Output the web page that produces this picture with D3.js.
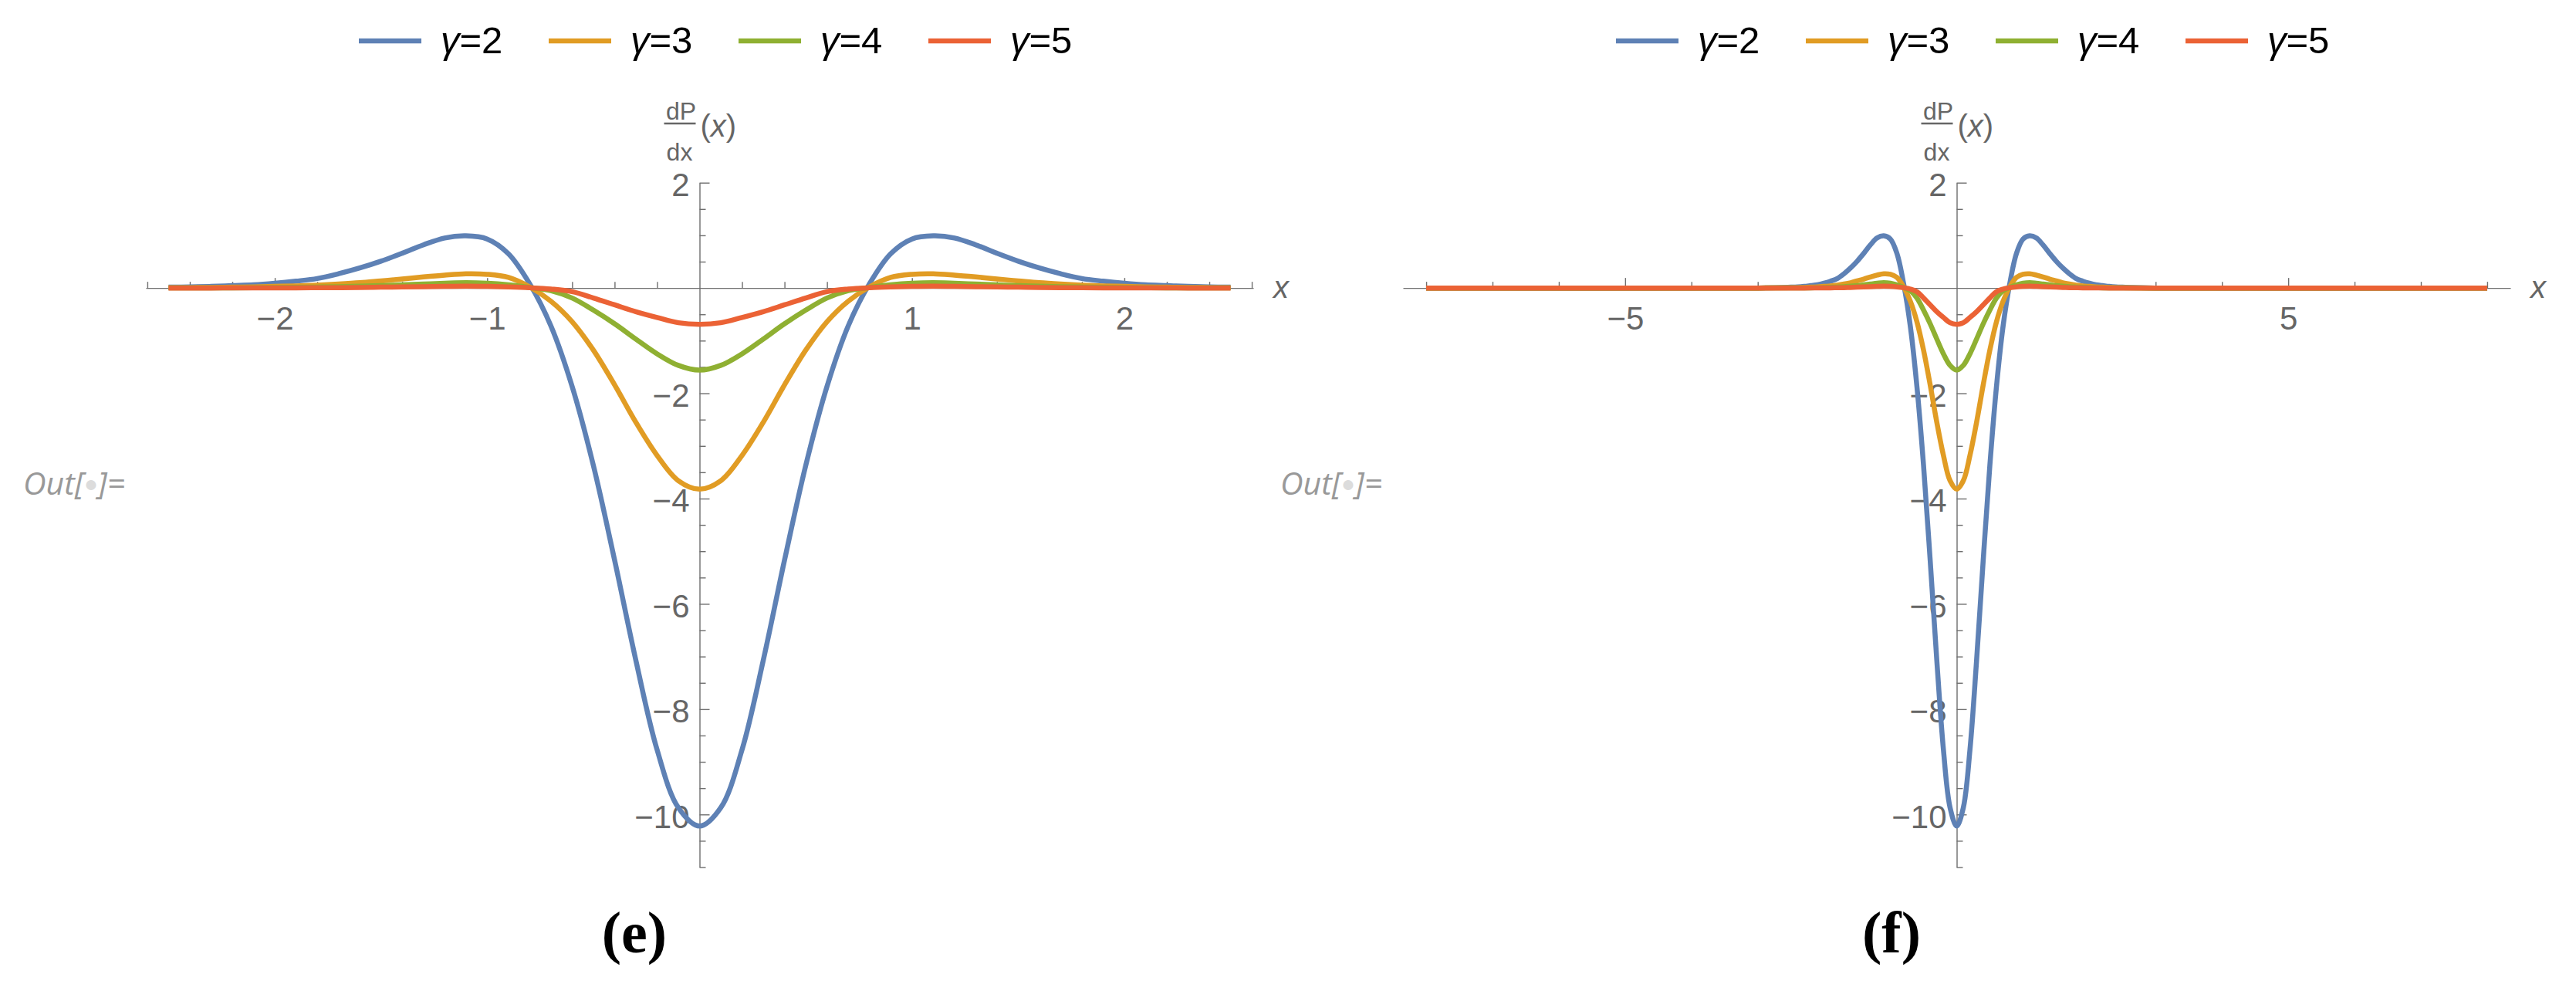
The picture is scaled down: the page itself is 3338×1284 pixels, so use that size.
<!DOCTYPE html>
<html>
<head>
<meta charset="utf-8">
<script src="https://cdn.jsdelivr.net/npm/d3@7"></script>
<style>
  body { margin: 0; background: #fff; }
  svg { display: block; }
</style>
</head>
<body>
<div id="chart"></div>
<script>
// sample points (same curves in both panels)
const xs = [-2.5, -2.4, -2.3, -2.2, -2.1, -2, -1.9, -1.8, -1.7, -1.6, -1.5, -1.4, -1.3, -1.2, -1.1, -1, -0.9, -0.8, -0.7, -0.6, -0.5, -0.4, -0.3, -0.2, -0.1,
  0, 0.1, 0.2, 0.3, 0.4, 0.5, 0.6, 0.7, 0.8, 0.9, 1, 1.1, 1.2, 1.3, 1.4, 1.5, 1.6, 1.7, 1.8, 1.9, 2, 2.1, 2.2, 2.3, 2.4, 2.5];

const gamma2 = [0.015, 0.02, 0.03, 0.045, 0.06, 0.09, 0.13, 0.18, 0.27, 0.38, 0.51, 0.66, 0.82, 0.95, 0.99, 0.93, 0.65, 0.08, -0.72, -1.87, -3.37, -5.17, -7.07, -8.77, -9.87,
  -10.22, -9.87, -8.77, -7.07, -5.17, -3.37, -1.87, -0.72, 0.08, 0.65, 0.93, 0.99, 0.95, 0.82, 0.66, 0.51, 0.38, 0.27, 0.18, 0.13, 0.09, 0.06, 0.045, 0.03, 0.02, 0.015];

const gamma3 = [0.005, 0.007, 0.01, 0.015, 0.02, 0.03, 0.04, 0.055, 0.075, 0.1, 0.135, 0.17, 0.21, 0.245, 0.27, 0.26, 0.2, 0.02, -0.25, -0.64, -1.18, -1.84, -2.55, -3.18, -3.66,
  -3.82, -3.66, -3.18, -2.55, -1.84, -1.18, -0.64, -0.25, 0.02, 0.2, 0.26, 0.27, 0.245, 0.21, 0.17, 0.135, 0.1, 0.075, 0.055, 0.04, 0.03, 0.02, 0.015, 0.01, 0.007, 0.005];

const gamma4 = [0.001, 0.001, 0.002, 0.003, 0.005, 0.008, 0.012, 0.018, 0.025, 0.035, 0.045, 0.06, 0.075, 0.09, 0.1, 0.09, 0.06, 0.01, -0.05, -0.19, -0.42, -0.68, -0.97, -1.25, -1.47,
  -1.56, -1.47, -1.25, -0.97, -0.68, -0.42, -0.19, -0.05, 0.01, 0.06, 0.09, 0.1, 0.09, 0.075, 0.06, 0.045, 0.035, 0.025, 0.018, 0.012, 0.008, 0.005, 0.003, 0.002, 0.001, 0.001];

const gamma5 = [0, 0, 0, 0.001, 0.001, 0.002, 0.003, 0.005, 0.007, 0.01, 0.015, 0.02, 0.025, 0.03, 0.035, 0.03, 0.02, 0.005, -0.02, -0.07, -0.19, -0.32, -0.45, -0.56, -0.66,
  -0.69, -0.66, -0.56, -0.45, -0.32, -0.19, -0.07, -0.02, 0.005, 0.02, 0.03, 0.035, 0.03, 0.025, 0.02, 0.015, 0.01, 0.007, 0.005, 0.003, 0.002, 0.001, 0.001, 0, 0, 0];

// flat tails for the wide panel (f)
const tailX = [-8, -3, 3, 8];
const tailY = [0, 0, 0, 0];

const gammaValues = ["2", "3", "4", "5"];
const seriesColors = ["#5e81b5", "#e19c24", "#8fb032", "#eb6235"];
const panelLabels = ["(e)", "(f)"];

const yMajorTicks = [2, -2, -4, -6, -8, -10];
const xMajorTicksE = [-2, -1, 1, 2];
const xMajorTicksF = [-5, 5];

const W = 3338, H = 1284;
const axisColor = "#6e6e6e";
const sans = "'Liberation Sans', Arial, sans-serif";

const svg = d3.select("#chart").append("svg")
    .attr("width", W)
    .attr("height", H)
    .style("font-family", sans);

const fmt = d => (d < 0 ? "\u2212" + Math.abs(d) : "" + d);

class DerivPanel {
    constructor(svg, offset, xDomain, xMajor, xMinor, curves, label) {
        this.g = svg.append("g").attr("transform", `translate(${offset},0)`);

        this.x = d3.scaleLinear().domain(xDomain).range([189, 1624]);
        this.y = d3.scaleLinear().domain([-11, 2]).range([1123.5, 236.7]);

        const x = this.x, y = this.y, g = this.g;
        const x0 = x(0), y0 = y(0);

        // x axis: minor then major ticks, pointing up
        g.append("g")
            .attr("transform", `translate(0,${y0})`)
            .call(d3.axisBottom(x).tickValues(xMinor).tickSizeInner(-8).tickSizeOuter(0).tickFormat(""))
            .call(a => a.select(".domain").attr("stroke", axisColor).attr("stroke-width", 1.4));
        g.append("g")
            .attr("class", "xmajor")
            .attr("transform", `translate(0,${y0})`)
            .call(d3.axisBottom(x).tickValues(xMajor).tickSizeInner(-13).tickSizeOuter(0).tickPadding(24).tickFormat(fmt))
            .call(a => a.select(".domain").remove());

        // y axis: ticks pointing right
        const yMinor = d3.range(-22, 5).map(i => i * 0.5).filter(v => v % 2 !== 0);
        g.append("g")
            .attr("transform", `translate(${x0},0)`)
            .call(d3.axisLeft(y).tickValues(yMinor).tickSizeInner(-8).tickSizeOuter(0).tickFormat(""))
            .call(a => a.select(".domain").attr("stroke", axisColor).attr("stroke-width", 1.4));
        g.append("g")
            .attr("class", "ymajor")
            .attr("transform", `translate(${x0},0)`)
            .call(d3.axisLeft(y).tickValues(yMajorTicks).tickSizeInner(-13).tickSizeOuter(0).tickPadding(13).tickFormat(fmt))
            .call(a => a.select(".domain").remove());

        g.selectAll(".tick line").attr("stroke", axisColor).attr("stroke-width", 1.4);
        g.selectAll(".tick text")
            .attr("fill", "#666")
            .attr("font-size", 42)
            .style("font-family", sans);
        g.selectAll(".ymajor .tick text").attr("dy", "0.4em");

        // axis labels
        g.append("text")
            .attr("x", 1650).attr("y", 386)
            .attr("fill", "#666").attr("font-size", 40).attr("font-style", "italic")
            .text("x");

        const lab = g.append("g").attr("fill", "#666");
        lab.append("text").attr("x", x0 - 24).attr("y", 155)
            .attr("text-anchor", "middle").attr("font-size", 32).text("dP");
        lab.append("line")
            .attr("x1", x0 - 46).attr("x2", x0 - 5)
            .attr("y1", 160).attr("y2", 160)
            .attr("stroke", "#666").attr("stroke-width", 2.5);
        lab.append("text").attr("x", x0 - 26).attr("y", 208)
            .attr("text-anchor", "middle").attr("font-size", 32).text("dx");
        const px = lab.append("text").attr("x", x0 + 1).attr("y", 177).attr("font-size", 40);
        px.append("tspan").text("(");
        px.append("tspan").attr("font-style", "italic").text("x");
        px.append("tspan").text(")");

        // curves
        const line = d3.line()
            .x(d => x(d[0]))
            .y(d => y(d[1]))
            .curve(d3.curveCatmullRom.alpha(0.5));

        g.selectAll("path.curve")
            .data(curves)
            .enter()
            .append("path")
            .attr("class", "curve")
            .attr("d", d => line(d))
            .attr("fill", "none")
            .attr("stroke", (d, i) => seriesColors[i])
            .attr("stroke-width", 6.5)
            .attr("stroke-linejoin", "round");

        // legend
        const leg = g.selectAll("g.leg")
            .data(gammaValues)
            .enter()
            .append("g")
            .attr("class", "leg")
            .attr("transform", (d, i) => `translate(${465 + i * 246},0)`);
        leg.append("line")
            .attr("x1", 0).attr("x2", 81)
            .attr("y1", 53).attr("y2", 53)
            .attr("stroke", (d, i) => seriesColors[i])
            .attr("stroke-width", 6.5);
        const lt = leg.append("text")
            .attr("x", 106).attr("y", 69)
            .attr("font-size", 49)
            .attr("fill", "#000");
        lt.append("tspan").attr("font-style", "italic").text("\u03b3");
        lt.append("tspan").text(d => "=" + d);

        // notebook cell label
        const out = g.append("text")
            .attr("x", 30).attr("y", 641)
            .style("font-family", "'Open Sans', sans-serif")
            .attr("font-style", "italic")
            .attr("font-size", 41)
            .attr("fill", "#999");
        out.append("tspan").text("Out[");
        out.append("tspan").attr("fill", "#dcdcdc").attr("font-size", 30).attr("dy", -4).text("\u25cf");
        out.append("tspan").attr("dy", 4).text("]=");

        // panel caption
        g.append("text")
            .attr("x", 822).attr("y", 1234)
            .attr("text-anchor", "middle")
            .style("font-family", "'Liberation Serif', 'Times New Roman', serif")
            .attr("font-weight", "bold")
            .attr("font-size", 76)
            .attr("fill", "#000")
            .text(label);
    }
}

const series = [gamma2, gamma3, gamma4, gamma5];

const curvesE = series.map(s => xs.map((v, i) => [v, s[i]]));
const curvesF = series.map(s => {
    const pts = xs.map((v, i) => [v, s[i]]);
    tailX.forEach((v, i) => pts.push([v, tailY[i]]));
    return pts.sort((a, b) => a[0] - b[0]);
});

const minorE = d3.range(-13, 14).map(i => +(i * 0.2).toFixed(1)).filter(v => !Number.isInteger(v));
const minorF = d3.range(-8, 9).filter(v => v % 5 !== 0);

new DerivPanel(svg, 0, [-2.607, 2.607], xMajorTicksE, minorE, curvesE, panelLabels[0]);
new DerivPanel(svg, 1629, [-8.35, 8.35], xMajorTicksF, minorF, curvesF, panelLabels[1]);
</script>
</body>
</html>
